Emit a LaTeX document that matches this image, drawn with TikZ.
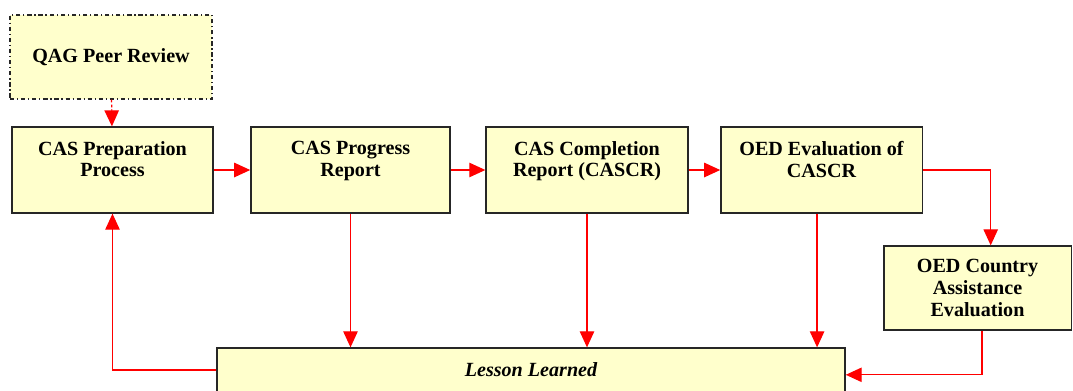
\documentclass[tikz,border=0pt]{standalone}
\usepackage{fontspec}
\setmainfont{Liberation Serif}
\usetikzlibrary{arrows.meta,positioning}
\definecolor{boxfill}{HTML}{FFFFCC}
\tikzset{
  box/.style={draw=black!85, fill=boxfill, line width=0.9pt, align=center, inner sep=0pt,
    font=\fontsize{14.3}{15.6}\selectfont\bfseries, minimum width=5.03cm, minimum height=2.15cm},
  flow/.style={->, color=red, line width=0.9pt}
}
\begin{document}
\begin{tikzpicture}[x=0.025cm,y=-0.025cm,>={Triangle[length=0.4cm,width=0.36cm]}]
\useasboundingbox (0,0) rectangle (1073,390);
\node[box, dash dot, minimum width=5.05cm, minimum height=2.1cm] (qag) at (111,57) {QAG Peer Review};
\node[box] (prep) at (112.5,170) {CAS Preparation\\Process\\\mbox{}};
\node[box, minimum width=4.98cm] (progress) at (350.5,170) {CAS Progress\\Report\\\mbox{}};
\node[box, minimum width=5.05cm] (completion) at (587,170) {CAS Completion\\Report (CASCR)\\\mbox{}};
\node[box] (oedeval) at (821.5,170) {OED Evaluation of\\CASCR\\\mbox{}};
\node[box, minimum width=4.68cm, minimum height=2.1cm] (country) at (977.5,288) {OED Country\\Assistance\\Evaluation};
\node[box, minimum width=15.7cm, minimum height=1.1cm, font=\fontsize{14.3}{15.6}\selectfont\bfseries\itshape] (lesson) at (531,370) {Lesson Learned};
% top row
\draw[flow, dash pattern=on 2pt off 1.5pt] (qag) -- (prep);
\path[flow]
(prep) edge (progress)
(progress) edge (completion)
(completion) edge (oedeval);
\draw[flow] (oedeval.east) -| ([xshift=0.33cm]country.north);
% down to lessons
\draw[flow] (progress.south) -- (progress.south |- lesson.north);
\draw[flow] (completion.south) -- (completion.south |- lesson.north);
\draw[flow] ([xshift=-0.11cm]oedeval.south) -- ([xshift=-0.11cm]oedeval.south |- lesson.north);
\draw[flow] ([xshift=0.11cm]country.south) |- ([yshift=-0.12cm]lesson.east);
% feedback
\draw[flow] (lesson.west) -| (prep.south);
\end{tikzpicture}
\end{document}
